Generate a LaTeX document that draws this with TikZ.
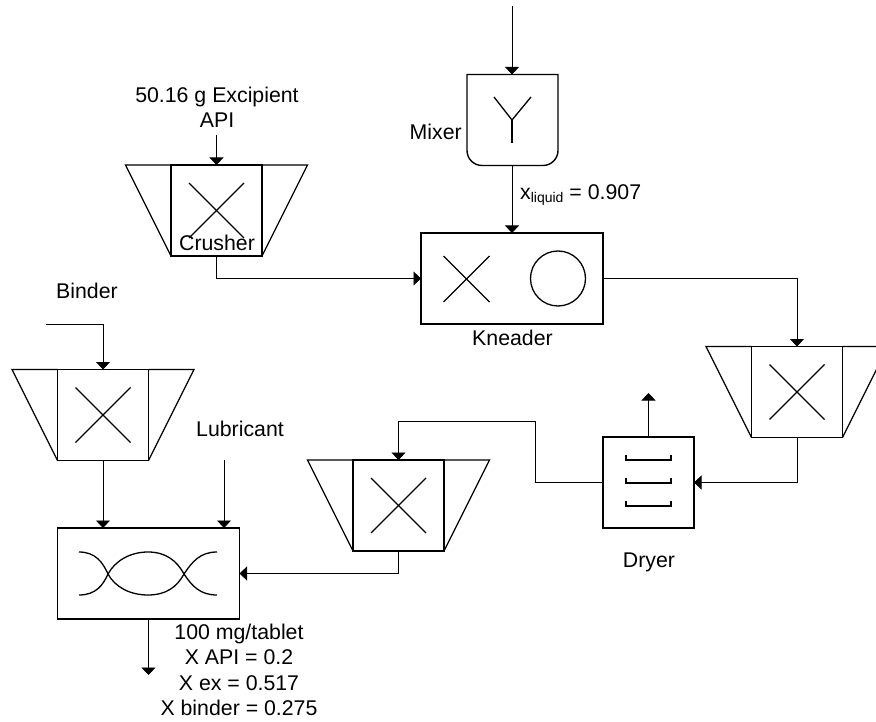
\documentclass[tikz,border=0pt]{standalone}
\usepackage{fontspec}
\setmainfont{Liberation Sans}
\usetikzlibrary{arrows.meta}
\begin{document}
\begin{tikzpicture}[
	x=1pt, y=-1pt,
	unitbox/.style={draw, line width=1.4pt, minimum size=91pt, inner sep=0pt, outer sep=0pt},
	wideunit/.style={unitbox, minimum width=182pt},
	unitline/.style={line width=1.3pt, line join=miter},
	flow/.style={-{Triangle[length=7.5pt,width=14pt]}, line width=0.8pt},
	label/.style={inner sep=0pt, align=center, font=\fontsize{21.3}{25.5}\selectfont}
	]
	
	\useasboundingbox (0,0) rectangle (876,722);
	\clip (0,0) rectangle (876,722);
	
	% Crushers
	\foreach \name/\cx/\cy in {crusher/216.5/210.5, millB/797/392, millC/398.5/505.5, millD/103/415} {
		\node[unitbox] (\name) at (\cx,\cy) {};
		\draw[unitline] (\name.south west) -- ++(-45.5,-91) -- (\name.north west);
		\draw[unitline] (\name.south east) -- ++(45.5,-91) -- (\name.north east);
		\draw[unitline] (\cx-27.5,\cy-27.5) -- (\cx+27.5,\cy+27.5);
		\draw[unitline] (\cx-27.5,\cy+27.5) -- (\cx+27.5,\cy-27.5);
	}
	
	% Mixer
	\node[minimum size=91pt, inner sep=0pt, outer sep=0pt] (mixer) at (512.5,120) {};
	\draw[line width=1.4pt] (mixer.north west) -- (mixer.north east)
		[rounded corners=15pt] -- (mixer.south east) -- (mixer.south west)
		[sharp corners] -- (mixer.north west) -- cycle;
	\draw[unitline] (494,97) -- (512,120) -- (531,97);
	\draw[unitline] (512,120) -- (512,143);
	
	% Kneader
	\node[wideunit] (kneader) at (512,278.5) {};
	\draw[unitline] (443.5,256) -- (489.5,302);
	\draw[unitline] (443.5,302) -- (489.5,256);
	\draw[unitline] (558,278.5) circle (27.5);
	
	% Dryer
	\node[unitbox] (dryer) at (648.5,482.5) {};
	\foreach \cy in {460,483,506} {
		\draw[unitline] (626,\cy-5) -- (626,\cy) -- (671,\cy) -- (671,\cy-5);
	}
	
	% Blender
	\node[wideunit] (blender) at (148.5,573.5) {};
	\draw[unitline] (79,552) .. controls (96,552) and (103,563) .. (108,574)
		.. controls (115,587) and (130,595) .. (148,595)
		.. controls (166,595) and (177,587) .. (184,574)
		.. controls (192,562) and (200,552) .. (217,552);
	\draw[unitline] (79,595) .. controls (96,595) and (103,585) .. (108,574)
		.. controls (115,561) and (130,552) .. (148,552)
		.. controls (166,552) and (177,561) .. (184,574)
		.. controls (192,586) and (200,595) .. (217,595);
	
	% Free ends
	\coordinate (mixerfeed) at (512,6);
	\coordinate (apifeed) at (216.5,135);
	\coordinate (binderfeed) at (46,324);
	\coordinate (lubefeed) at (224,460);
	\coordinate (vapour) at (648.5,393);
	\coordinate (product) at (148.5,675);
	
	% Streams
	\draw[flow] (mixerfeed) -- (mixer.north -| mixerfeed);
	\draw[flow] (mixer.south -| mixerfeed) -- (kneader.north -| mixerfeed);
	\draw[flow] (apifeed) -- (crusher.north);
	\draw[flow] (crusher.south) |- (kneader.west);
	\draw[flow] (kneader.east) -| (millB.north);
	\draw[flow] (millB.south) |- (dryer.east);
	\draw[flow] (dryer.north) -- (vapour);
	\draw[flow] (dryer.west) -- ++(-68,0) |- ++(-136.5,-61) -- (millC.north);
	\draw[flow] (millC.south) |- (blender.east);
	\draw[flow] (binderfeed) -| (millD.north);
	\draw[flow] (millD.south) -- (millD.south |- blender.north);
	\draw[flow] (lubefeed) -- (lubefeed |- blender.north);
	\draw[flow] (blender.south) -- (product);
	
	% Labels
	\node[label] (apilabel) at (217,107.5) {50.16 g Excipient\\API};
	\node[label] (crusherlabel) at (217,243) {Crusher};
	\node[label, anchor=east] (mixerlabel) at (462,132) {Mixer};
	\node[label, anchor=west] (liquidlabel) at (520,195) {x\raisebox{-3pt}{\fontsize{14}{14}\selectfont liquid} = 0.907};
	\node[label] (kneaderlabel) at (512.5,338) {Kneader};
	\node[label] (binderlabel) at (87,291) {Binder};
	\node[label] (lubelabel) at (240,429) {Lubricant};
	\node[label] (dryerlabel) at (649,562) {Dryer};
	\node[label] (productlabel) at (239,670) {100 mg/tablet\\X API = 0.2\\X ex = 0.517\\X binder = 0.275};
	
\end{tikzpicture}
\end{document}
